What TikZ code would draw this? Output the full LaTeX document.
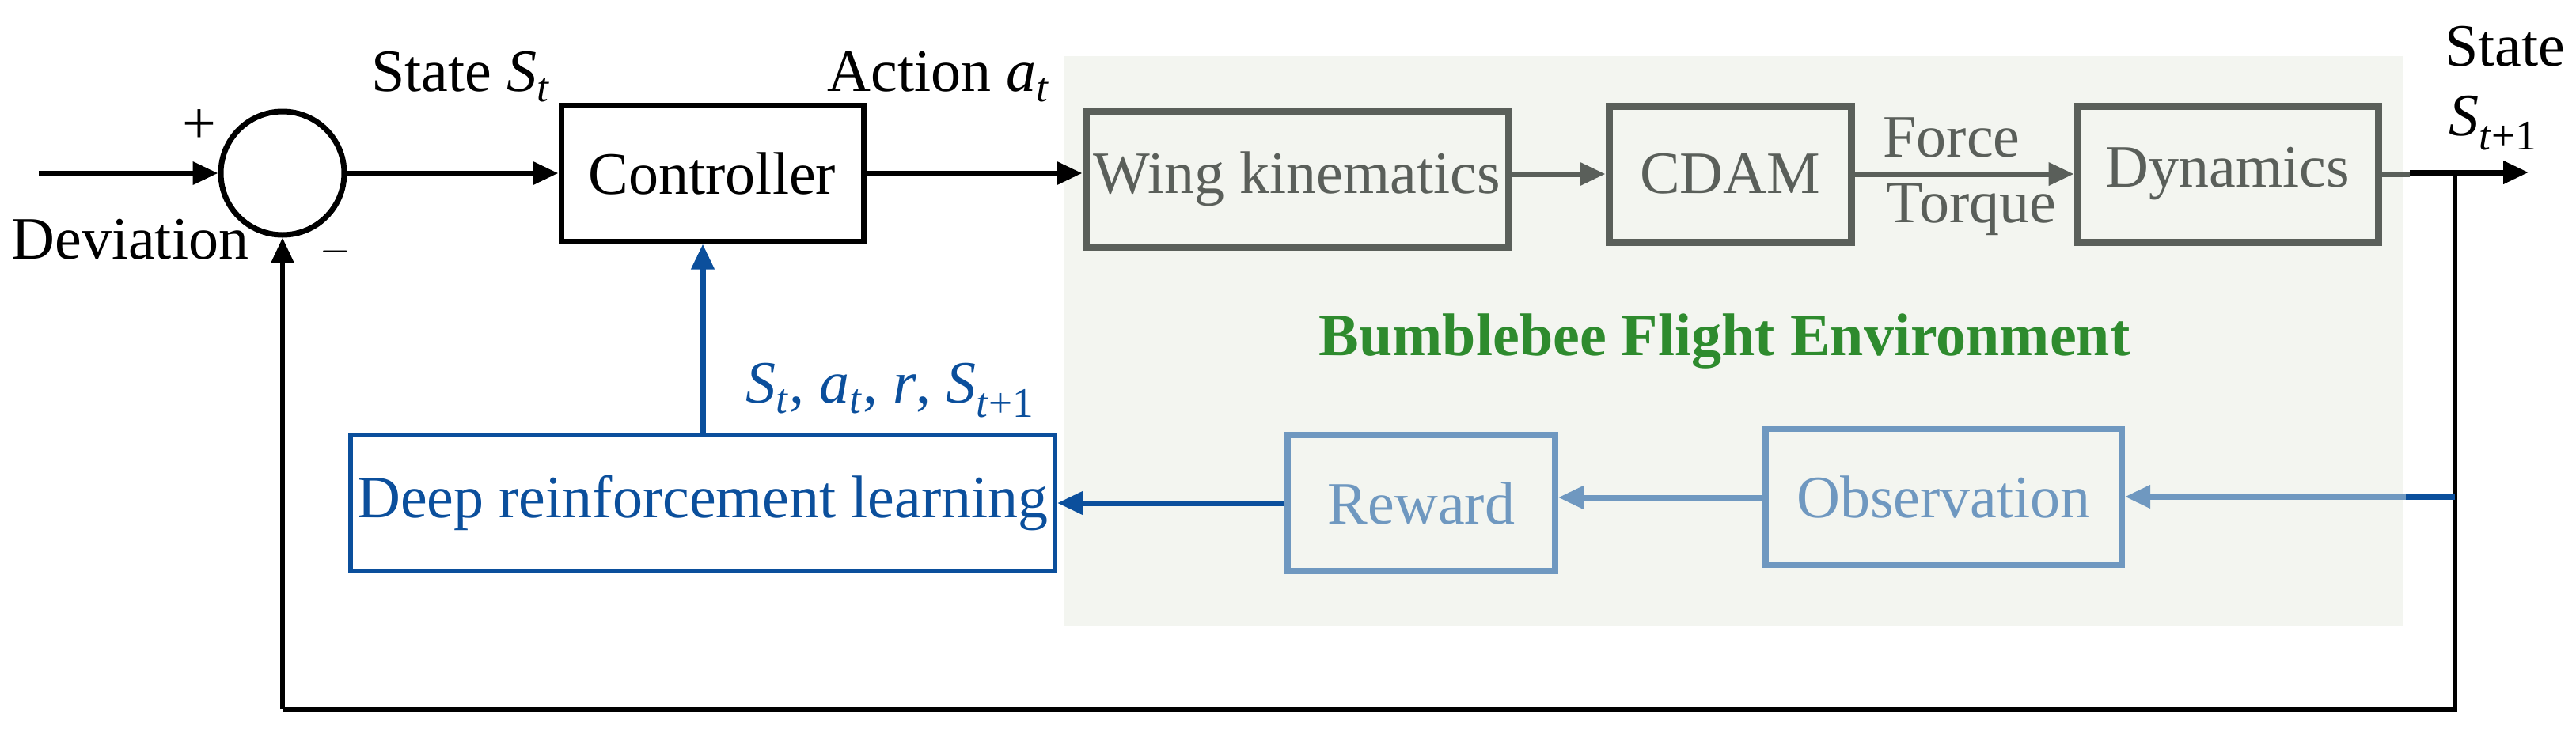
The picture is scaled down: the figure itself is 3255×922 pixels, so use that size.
\documentclass[tikz,border=0pt]{standalone}
\usepackage{fontspec}
\setmainfont{Liberation Serif}
\usetikzlibrary{arrows.meta}
\definecolor{bg}{HTML}{F3F5F0}
\definecolor{gbox}{HTML}{5A5F5A}
\definecolor{lblue}{HTML}{6F98C0}
\definecolor{dblue}{HTML}{0B4F9C}
\definecolor{grn}{HTML}{2E8B2E}
\newcommand{\vsub}[2]{\textit{#1}\textsubscript{#2}}
\begin{document}
\begin{tikzpicture}[x=0.5pt,y=-0.5pt,
  every node/.style={font=\fontsize{38}{44}\selectfont},
  blk/.style={draw=black,line width=3.5pt},
  gry/.style={draw=gbox,line width=4.5pt,text=gbox},
  lbl/.style={draw=lblue,line width=4pt,text=lblue},
  arr/.style={line width=3.5pt,-{Triangle[length=16pt,width=14pt]}},
  ]
\useasboundingbox (0,0) rectangle (3255,922);
\fill[bg] (1344,71) rectangle (3037,791);
% nodes
\node[blk,circle,minimum size=78pt,inner sep=0pt] (sum) at (357,219) {};
\node[blk,minimum width=191pt,minimum height=86pt] (ctrl) at (900,219) {Controller};
\node[gry,minimum width=267pt,minimum height=86pt,inner sep=0pt] (wing) at (1639,226) {Wing kinematics};
\node[gry,minimum width=153pt,minimum height=86pt] (cdam) at (2186,220) {CDAM};
\node[gry,minimum width=190pt,minimum height=86pt] (dyn) at (2815,220) {Dynamics};
\node[draw=dblue,line width=3pt,text=dblue,minimum width=445pt,minimum height=86pt] (drl) at (888,636) {Deep reinforcement learning};
\node[lbl,minimum width=169pt,minimum height=86pt] (rew) at (1796,636) {Reward};
\node[lbl,minimum width=225pt,minimum height=86pt] (obs) at (2456,628) {Observation};
\coordinate (in) at (49,219);
\coordinate (out) at (3195,218);
\coordinate (tap) at (3102,218);
\coordinate (bl) at (3102,897);
\coordinate (br) at (357,897);
% labels
\node at (252,160) {+};
\node[anchor=west,inner sep=0pt] at (14,303) {Deviation};
\node at (424,318) {$-$};
\node at (582,97) {State \vsub{S}{\textit{t}}};
\node at (1186,97) {Action \vsub{a}{\textit{t}}};
\node[text=dblue] at (1125,494) {\vsub{S}{\textit{t}}, \vsub{a}{\textit{t}}, \textit{r}, \vsub{S}{\textit{t}+1}};
\node[text=gbox] at (2466,174) {Force};
\node[text=gbox] at (2491,265) {Torque};
\node at (3165,59) {State};
\node at (3150,156) {\vsub{S}{\textit{t}+1}};
\node[text=grn,font=\fontsize{38}{44}\selectfont\bfseries] at (2179,432) {Bumblebee Flight Environment};
% connectors
\draw[arr] (in) -- (sum.west);
\draw[arr] (sum.east) -- (ctrl.west);
\draw[arr] (ctrl.east) -- (wing.west |- ctrl.east);
\draw[arr,gbox] (wing.east |- cdam.west) -- (cdam.west);
\draw[arr,gbox] (cdam) -- (dyn.west);
\draw[line width=3.5pt,gbox] (dyn.east) -- (3045,220);
\draw[arr] (3045,218) -- (out);
\draw[line width=3pt] (tap) -- (bl) -- (br);
\draw[arr,line width=3pt] (br) -- (sum.south);
\draw[arr,lblue] (tap |- obs.east) -- (obs.east);
\draw[line width=3.5pt,dblue] (tap |- obs.east) -- (3040,628);
\draw[arr,lblue] (obs.west |- 0,629) -- (rew.east |- 0,629);
\draw[arr,dblue] (rew.west) -- (drl.east);
\draw[arr,dblue] (drl.north) -- (drl.north |- ctrl.south);
\end{tikzpicture}
\end{document}
